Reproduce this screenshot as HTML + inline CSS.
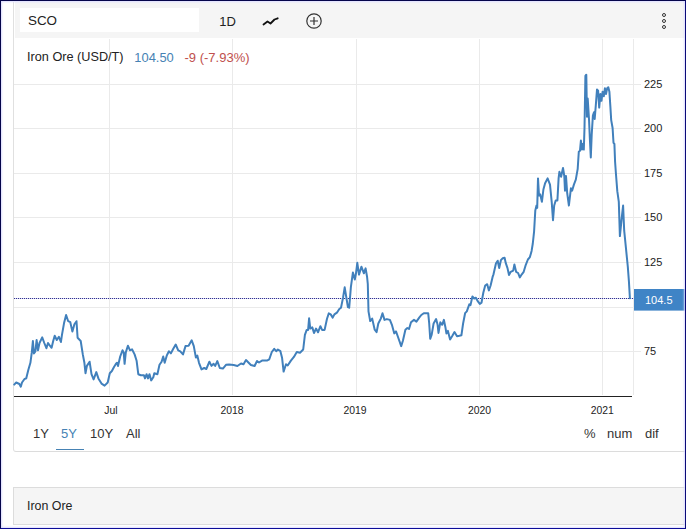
<!DOCTYPE html>
<html><head><meta charset="utf-8"><title>Iron Ore</title>
<style>
html,body{margin:0;padding:0;overflow:hidden;}
body{width:686px;height:529px;overflow:hidden;background:#fff;position:relative;font-family:"Liberation Sans",Arial,sans-serif;color:#222;}
.frame{position:absolute;left:0;top:0;width:684px;height:527px;border:1px solid #05054a;border-right-color:#0a0a78;border-bottom-color:#0c0c98;box-shadow:inset 0 0 2px 1px #dcdcff;pointer-events:none;z-index:10;}
.panel{position:absolute;left:13px;top:2px;width:680px;height:450px;border-left:1px solid #e0e0e0;border-bottom:1px solid #dcdcdc;border-bottom-left-radius:3px;box-sizing:border-box;}
.hdr{position:absolute;left:1px;top:0;right:0;height:36px;background:#f5f5f5;}
.inp{position:absolute;left:5px;top:6px;width:179px;height:24px;background:#fff;font-size:13.4px;line-height:26px;padding-left:8px;box-sizing:border-box;color:#222;}
.t{position:absolute;white-space:nowrap;}
.rng{font-size:13px;top:426px;color:#333;}
.xl{font-size:10.4px;top:405px;color:#222;transform:translateX(-50%);}
.yl{font-size:11px;left:644px;color:#222;}
.panel2{position:absolute;left:13px;top:487px;width:680px;height:38px;border-left:1px solid #dcdcdc;border-top:1px solid #dcdcdc;border-bottom:1px solid #dcdcdc;background:#f5f5f5;box-sizing:border-box;}
</style></head><body>
<div class="panel">
 <div class="hdr">
  <div class="inp">SCO</div>
  <div class="t" style="left:204.3px;top:12px;font-size:13px;color:#222;">1D</div>
  <svg class="t" style="left:244px;top:9px" width="24" height="20" viewBox="0 0 24 20"><polyline points="4.5,13.5 8.5,10.5 11.5,12.5 15.5,8.5 18.7,7.3" fill="none" stroke="#111" stroke-width="1.8" stroke-linejoin="round" stroke-linecap="round"/></svg>
  <svg class="t" style="left:289.5px;top:10px" width="18" height="18" viewBox="0 0 18 18"><circle cx="9" cy="9" r="7.2" fill="none" stroke="#333" stroke-width="1.2"/><path d="M9 5v8M5 9h8" stroke="#333" stroke-width="1.2" fill="none"/></svg>
  <svg class="t" style="left:644px;top:10px" width="10" height="18" viewBox="0 0 10 18"><circle cx="5" cy="3" r="1.5" fill="none" stroke="#333" stroke-width="1"/><circle cx="5" cy="9" r="1.5" fill="none" stroke="#333" stroke-width="1"/><circle cx="5" cy="15" r="1.5" fill="none" stroke="#333" stroke-width="1"/></svg>
 </div>
</div>
<svg class="t" style="left:0;top:0" width="686" height="529" viewBox="0 0 686 529">
 <g stroke="#eaeaea" stroke-width="1" shape-rendering="crispEdges">
  <line x1="14" x2="641" y1="84.5" y2="84.5"/><line x1="14" x2="641" y1="128.5" y2="128.5"/><line x1="14" x2="641" y1="173.5" y2="173.5"/><line x1="14" x2="641" y1="217.5" y2="217.5"/><line x1="14" x2="641" y1="262.5" y2="262.5"/><line x1="14" x2="641" y1="307.5" y2="307.5"/><line x1="14" x2="641" y1="351.5" y2="351.5"/>
  <line x1="109.5" x2="109.5" y1="39" y2="395"/><line x1="232.5" x2="232.5" y1="39" y2="395"/><line x1="356.5" x2="356.5" y1="39" y2="395"/><line x1="479.5" x2="479.5" y1="39" y2="395"/><line x1="602.5" x2="602.5" y1="39" y2="395"/><line x1="633.5" x2="633.5" y1="39" y2="395"/>
 </g>
 <line x1="14" x2="634" y1="298.5" y2="298.5" stroke="#d4d4f6" stroke-width="1" shape-rendering="crispEdges"/><line x1="14" x2="634" y1="298.5" y2="298.5" stroke="#34348c" stroke-width="1" stroke-dasharray="1,1" shape-rendering="crispEdges"/>
 <line x1="14" x2="632" y1="396.5" y2="396.5" stroke="#222" stroke-width="1" shape-rendering="crispEdges"/>
 <polyline fill="none" stroke="#4180bc" stroke-width="2" stroke-linejoin="round" stroke-linecap="round" points="14.2,384.6 16.2,382.5 19.4,384 20.8,386.7 22,382.5 24.5,379 26.2,378.4 28.3,370 30.4,362.8 31.8,352.4 32.9,341 33.9,353.4 35.4,351.3 36.6,340 38,350.3 39.5,343 42.2,337.4 44.3,343 46.4,348.2 48,343 49.5,345.1 51.6,347.8 53.2,341 54.7,335.7 56.8,340 58.9,336.8 60.9,342 62,334.7 64,323.3 66.1,315 68.2,321.2 70.3,322.2 72.4,331.6 74.4,324.3 76.5,321.2 77.6,337.8 80.7,341 82.8,354.4 84.4,362.8 85.5,373.2 86.9,365.9 89.6,361.7 91.5,374.2 93.6,379.4 96.3,372.1 98.4,378.4 101.5,383.6 104.6,385.6 107.7,382.5 109.8,373.2 111.9,371 114,367 116,363.8 117,362.8 118,366 120.2,356.5 122.5,350.3 123.7,352.4 124.6,363.8 125.8,352.4 127.9,345.7 130,350.3 132,349.3 134.6,354.4 136.6,360.7 138.3,374.2 140.8,375.2 143.9,375.2 145,378.4 146.6,374.2 148,378.4 149.5,374.2 151.2,380.4 153.3,377.3 154.3,373.2 157.4,374.2 159.5,364.8 161.6,361.7 163.2,356.5 164.7,362.8 166.8,355.5 168.9,351.3 170.9,353.4 173,349.3 175.7,344.5 178.2,350.3 180.3,351.3 183,354.4 185.5,346.1 188.6,345.7 191.7,340.3 193.8,346.1 195.9,357.6 197.3,355.5 199,362.8 201.5,369.4 204.2,368 206.3,369 209.4,361.7 211.5,365.9 213.6,363.8 215.2,365.9 217.3,361.1 219.8,368 222.9,368.6 226,364.8 229.1,364.4 233.7,365 237.4,366 241,363.5 243.5,364.2 246,360 248.4,362.5 250.9,365 254.6,366 257,361 259,362.5 262,360.6 266.9,360.6 269.3,359.3 271.8,352 274.2,348.8 276.2,351.2 277.9,349.5 280.4,351.2 282.1,358.1 283.6,371.6 286,364.2 287.7,365.5 290.9,360.6 293.9,356.9 296.8,352 300,352.7 303.2,349.5 304.9,334.8 306.7,329.9 308.1,329.9 309.1,318.3 310.3,328.6 312.3,327.4 314,333 316,328.6 318,332.3 320.4,326.2 322.1,329.9 324.6,329.9 327,318.8 328.8,313.4 330.7,314.4 332.7,317.6 334.4,314.4 336.9,312.7 339.3,309 341,307.7 343,297.9 344.7,287.3 346.2,296.7 347.9,307 349.2,307.7 350.9,286.9 352.9,272.6 354.8,279.5 356,273.3 357.3,262.8 359,274.6 361.4,266.7 363.9,273.3 365.6,268.4 367.1,277 367.8,284.2 368.5,311.3 370.2,321.1 372.2,318.6 374.7,329.7 376.6,332.1 378.3,323.5 380.8,318.6 382.5,313.2 384.5,319.9 386.9,319.1 389.9,319.9 391.9,324.8 394.3,333.4 396,331.4 398,337 401.2,346.1 402.9,340.7 405.4,329.7 407.3,328 409,329 411,322.3 414,319.9 416.4,321.6 419.4,317.4 421.3,315 423.8,313.2 428.2,313.2 429.2,323.5 430.2,338.8 431.7,334.6 433.6,323.5 436.1,319.1 437.6,324.8 438.5,332.9 440.3,322.3 442.2,324.8 443.9,319.9 445.4,327.2 446.4,333.4 447.9,330.9 450.1,339.5 452.1,336.3 454.5,332.1 457,336.3 459.4,335.8 461.4,335.3 463.1,323.5 465.1,313.2 466.8,311.3 469.3,304.4 470.5,305.1 472.4,296.5 474.2,298.5 475.9,297.7 477.9,301.4 479.8,303.9 481.5,302.7 483.3,292.8 485.2,285.5 487.2,284.2 488.9,290.4 490.6,285.5 492.6,276.9 493.5,274.3 496,263.2 497.7,260.7 499.2,268.1 500.9,260.2 502.6,258.3 504.6,257.8 505.8,263.2 507.5,268.1 509,275 510.7,271.8 513.2,270.6 514.4,264.4 516.1,271.8 518.1,273 519.8,277.4 521.8,274.3 523.7,271.8 525.5,265.7 527.9,259.5 529.9,257.1 531.6,250.9 532.8,243.5 534.1,231.3 535.3,210.4 536.5,205.5 537.2,207.9 538,178.4 539,195.6 540.2,194.4 541.9,201.8 543.4,189.5 545.1,183.3 547.6,178.4 550,184.6 551.7,201.8 553,220.2 554.2,205.5 555.7,200.5 557.4,200.5 558.6,178.4 559.4,171.8 561.1,176.7 563,167.9 564.3,176 565,190.7 566,176 567.2,193.2 568.9,205.5 570.9,188.3 572.1,190.7 573.9,184.6 575.8,179.7 577.7,168.8 578.8,151.8 580,150.7 580.9,140.5 582,149.6 582.7,143.9 583.8,149.6 584.5,128 585.4,75.9 586.3,74.7 587,116.7 587.7,98.5 589,119 589.9,139.4 590.8,157.5 591.7,134.8 592.9,115.6 594,112.2 594.7,119 595.8,105.4 597,89.5 598.1,90.6 599.2,107.6 600.4,94 601.5,100.8 602.6,91.7 603.8,96.3 604.9,88.3 606,94 607.2,88.3 608.3,87.2 609.4,91.7 610.3,105.4 611.2,120.1 612.6,128 613.5,142.8 614.4,143.9 615.1,162 615.9,173.2 617.3,191.2 618.8,201.9 619.9,236.1 621.7,218.1 623.1,205.5 624.2,230.7 626,248.7 627.8,266.7 628.9,281.1 629.9,298.3"/>
 <rect x="634" y="289" width="52" height="21.6" fill="#3f84c6"/>
</svg>
<div class="t" style="left:27px;top:49.5px;font-size:12.7px;color:#222;">Iron Ore (USD/T)</div>
<div class="t" style="left:134.3px;top:49.5px;font-size:12.9px;color:#4682b4;">104.50</div>
<div class="t" style="left:184.5px;top:49.5px;font-size:13px;color:#c0504d;">-9 (-7.93%)</div>
<div class="t yl" style="top:78px">225</div>
<div class="t yl" style="top:122px">200</div>
<div class="t yl" style="top:167px">175</div>
<div class="t yl" style="top:211px">150</div>
<div class="t yl" style="top:256px">125</div>
<div class="t yl" style="top:345px">75</div>
<div class="t" style="left:645px;top:293.5px;font-size:11px;color:#fff;">104.5</div>
<div class="t xl" style="left:111px">Jul</div>
<div class="t xl" style="left:232px">2018</div>
<div class="t xl" style="left:355px">2019</div>
<div class="t xl" style="left:479.5px">2020</div>
<div class="t xl" style="left:602.2px">2021</div>
<div class="t rng" style="left:33px">1Y</div>
<div class="t rng" style="left:61px;color:#4682b4">5Y</div>
<div class="t" style="left:56px;top:448.5px;width:28px;height:1px;background:#4682b4"></div>
<div class="t rng" style="left:90px">10Y</div>
<div class="t rng" style="left:126px">All</div>
<div class="t" style="left:584px;top:426px;font-size:13px;color:#333">%</div>
<div class="t" style="left:607px;top:426px;font-size:13px;color:#333">num</div>
<div class="t" style="left:645px;top:426px;font-size:13px;color:#333">dif</div>
<div class="panel2"><div class="t" style="left:13px;top:10.5px;font-size:12.4px;color:#222">Iron Ore</div></div>
<div class="frame"></div>
</body></html>
